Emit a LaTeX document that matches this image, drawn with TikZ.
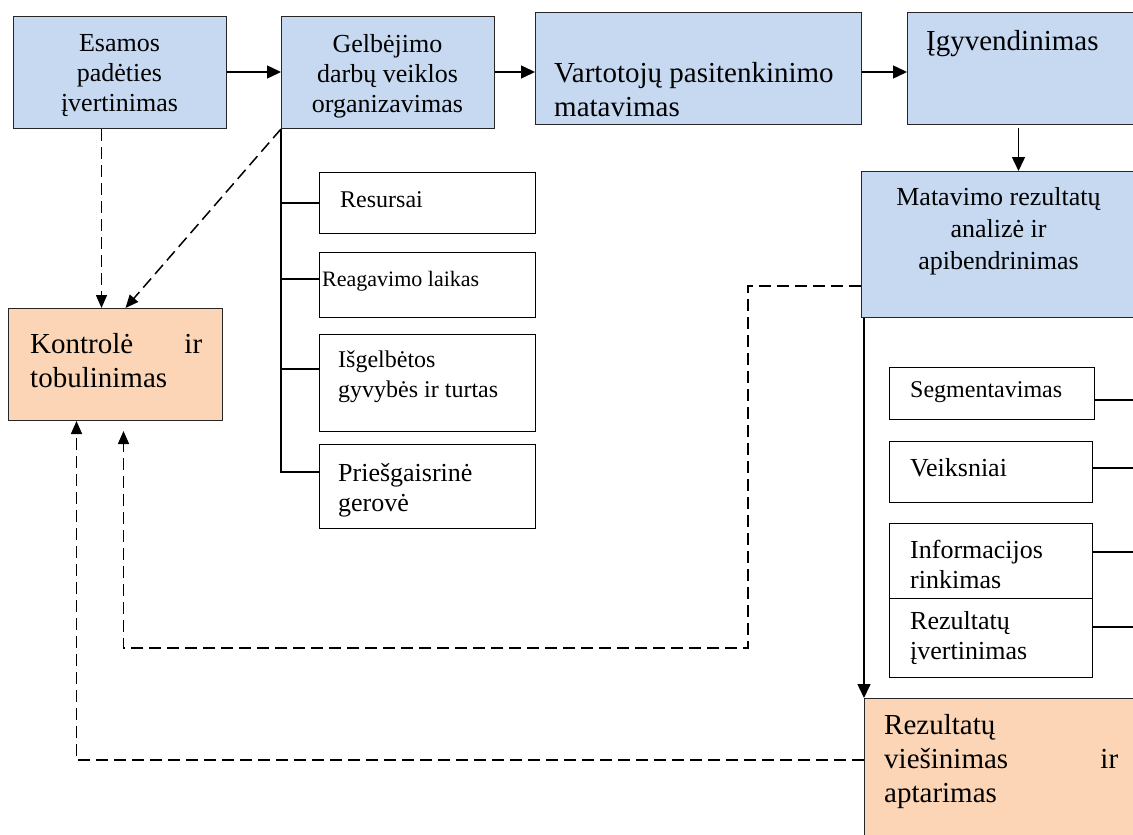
\documentclass[tikz,border=0pt]{standalone}
\usepackage{fontspec}
\setmainfont{Liberation Serif}
\usetikzlibrary{arrows.meta}
\definecolor{boxblue}{HTML}{C6D9F1}
\definecolor{boxorange}{HTML}{FBD5B5}
\newcommand\szL{\fontsize{29}{34}\selectfont}
\newcommand\szM{\fontsize{26}{30}\selectfont}
\newcommand\szMM{\fontsize{26}{32}\selectfont}
\newcommand\szS{\fontsize{24}{30}\selectfont}
\newcommand\szXS{\fontsize{22}{28}\selectfont}
\tikzset{
  bx/.style={draw=black!85, line width=1pt, inner sep=0pt, anchor=north west},
  bluebox/.style={bx, fill=boxblue},
  orangebox/.style={bx, fill=boxorange},
  whitebox/.style={bx, fill=white, draw=black},
  txt/.style={inner sep=0pt, text=black},
  conn/.style={line width=1.5pt, draw=black},
  arr/.style={conn, -{Triangle[length=14pt,width=13pt]}},
  darr/.style={line width=1.5pt, dash pattern=on 12pt off 6pt, -{Triangle[length=13pt,width=11pt]}},
}
\begin{document}
\begin{tikzpicture}[x=1pt,y=-1pt]
\clip (0,0) rectangle (1133,835);
\fill[white] (0,0) rectangle (1133,835);

% top row
\node[bluebox, minimum width=213pt, minimum height=112pt] (b1) at (13,16) {};
\node[txt, font=\szM, align=center] (t1) at (119.5,76) {Esamos\\padėties\\įvertinimas};
\node[bluebox, minimum width=213pt, minimum height=112pt] (b2) at (281,16) {};
\node[txt, font=\szM, align=center] (t2) at (387.5,76) {Gelbėjimo\\darbų veiklos\\organizavimas};
\node[bluebox, minimum width=326pt, minimum height=112pt] (b3) at (535,12) {};
\node[txt, font=\szL, align=left, anchor=west] (t3) at (554,90) {Vartotojų pasitenkinimo\\matavimas};
\node[bluebox, minimum width=240pt, minimum height=112pt] (b4) at (907,12) {};
\node[txt, font=\szL, anchor=west] (t4) at (926,44) {Įgyvendinimas};

\draw[arr] (b1.east |- 0,72) -- (b2.west |- 0,72);
\draw[arr] (b2.east |- 0,72) -- (b3.west |- 0,72);
\draw[arr] (b3.east |- 0,72) -- (b4.west |- 0,72);

% analysis box
\node[bluebox, minimum width=280pt, minimum height=146pt] (mat) at (861,171) {};
\node[txt, font=\szMM, align=center] (tm) at (998.5,231) {Matavimo rezultatų\\analizė ir\\apibendrinimas};
\draw[arr] (1018.5,128) -- (1018.5,171);

% control box
\node[orangebox, minimum width=214pt, minimum height=112pt] (kon) at (8,308) {};
\node[txt, font=\szL, align=left, text width=172pt, anchor=west] (tk) at (30,361) {Kontrolė\hfill ir\\tobulinimas};

% sub boxes of b2
\node[whitebox, minimum width=216pt, minimum height=61pt] (s1) at (319,172) {};
\node[txt, font=\szS, anchor=west] (ts1) at (340,200) {Resursai};
\node[whitebox, minimum width=216pt, minimum height=65pt] (s2) at (319,252) {};
\node[txt, font=\szXS, anchor=west] (ts2) at (322,281) {Reagavimo laikas};
\node[whitebox, minimum width=216pt, minimum height=97pt] (s3) at (319,334) {};
\node[txt, font=\szS, align=left, anchor=west] (ts3) at (338,377) {Išgelbėtos\\gyvybės ir turtas};
\node[whitebox, minimum width=216pt, minimum height=84pt] (s4) at (319,444) {};
\node[txt, font=\szM, align=left, anchor=west] (ts4) at (338,490) {Priešgaisrinė\\gerovė};

\draw[conn] (b2.south west) |- ([yshift=-28pt]s4.north west);
\draw[conn] (b2.south west |- s1.west) -- (s1.west);
\draw[conn] ([yshift=-27pt]b2.south west |- s2.north west) -- ([yshift=-27pt]s2.north west);
\draw[conn] ([yshift=-35pt]b2.south west |- s3.north west) -- ([yshift=-35pt]s3.north west);

% right column
\node[orangebox, minimum width=280pt, minimum height=150pt] (rez) at (864,698) {};
\node[txt, font=\szL, align=left, text width=234pt, anchor=west] (trz) at (884,762) {Rezultatų\\viešinimas\hfill ir\\aptarimas};
\draw[arr] ([xshift=3pt]mat.south west) -- (rez.north west);

\node[whitebox, minimum width=205pt, minimum height=52pt] (r1) at (889,367) {};
\node[txt, font=\szS, anchor=west] (tr1) at (910,392) {Segmentavimas};
\node[whitebox, minimum width=203pt, minimum height=61pt] (r2) at (889,441) {};
\node[txt, font=\szM, anchor=west] (tr2) at (910,468) {Veiksniai};
\node[whitebox, minimum width=203pt, minimum height=75pt] (r3) at (889,523) {};
\node[txt, font=\szM, align=left, anchor=west] (tr3) at (910,564) {Informacijos\\rinkimas};
\node[whitebox, minimum width=203pt, minimum height=79pt] (r4) at (889,598) {};
\node[txt, font=\szM, align=left, anchor=west] (tr4) at (910,638) {Rezultatų\\įvertinimas};

\coordinate (e1) at (1140,400);
\coordinate (e2) at (1140,468);
\coordinate (e3) at (1140,552);
\coordinate (e4) at (1140,627);
\draw[conn] (r1.east |- e1) -- (e1);
\draw[conn] (r2.east |- e2) -- (e2);
\draw[conn, line width=2.2pt] (r3.east |- e3) -- (e3);
\draw[conn] (r4.east |- e4) -- (e4);

% dashed feedback
\coordinate (c1) at (748,648);
\draw[darr] ([xshift=-18.5pt]b1.south) -- ([xshift=-14pt]kon.north);
\draw[darr] (b2.south west) -- ([xshift=10pt]kon.north);
\draw[darr] ([yshift=-115pt]mat.north west) -| (c1) -| ([xshift=8pt,yshift=-10pt]kon.south);
\draw[darr] ([yshift=-62pt]rez.north west) -| ([xshift=-39pt]kon.south);
\end{tikzpicture}
\end{document}
